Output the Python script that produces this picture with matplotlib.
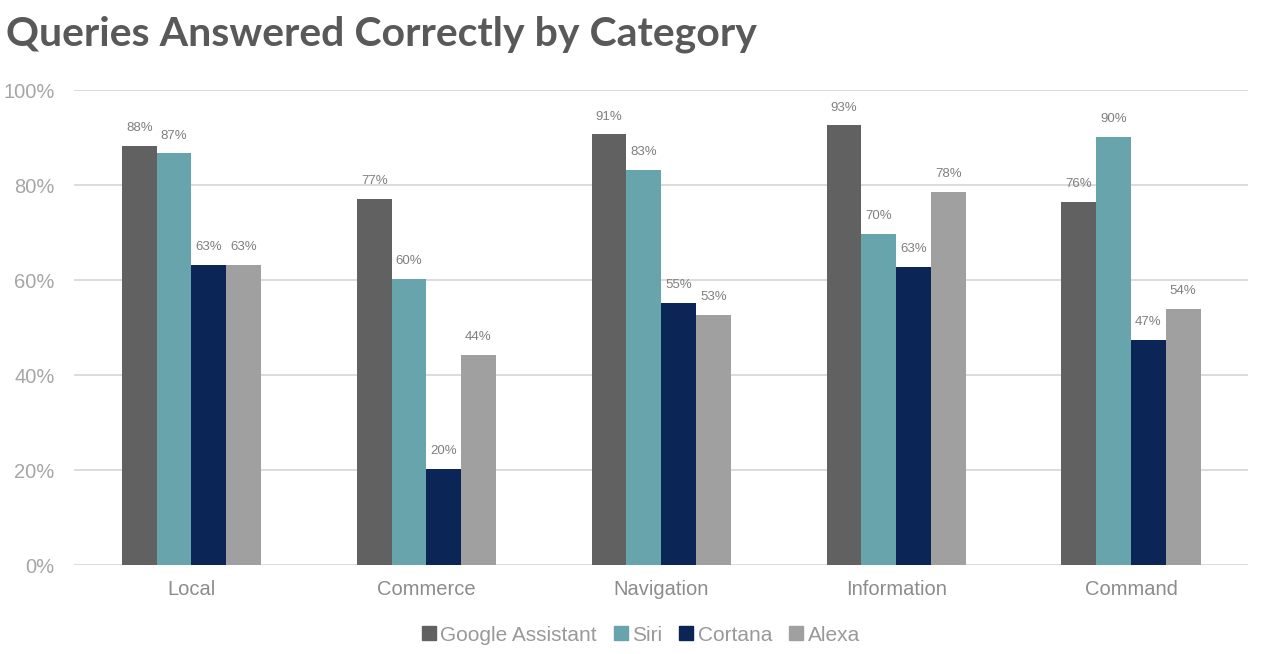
import matplotlib.pyplot as plt
import numpy as np
from matplotlib.lines import Line2D

categories = ["Local", "Commerce", "Navigation", "Information", "Command"]
series = ["Google Assistant", "Siri", "Cortana", "Alexa"]
google = [0.882, 0.771, 0.907, 0.926, 0.764]
siri = [0.867, 0.602, 0.832, 0.697, 0.901]
cortana = [0.632, 0.202, 0.552, 0.627, 0.474]
alexa = [0.632, 0.442, 0.526, 0.785, 0.539]
colors = ["#616161", "#68a4ab", "#0a2556", "#a0a0a0"]

fig = plt.figure(figsize=(12.65, 6.54), dpi=100)
ax = fig.add_axes([0.0585, 0.136, 0.9284, 0.726])

x = np.arange(len(categories))
w = 0.148
for i, vals in enumerate([google, siri, cortana, alexa]):
    pos = x + (i - 1.5) * w
    ax.bar(pos, vals, width=w, color=colors[i], zorder=3)
    for px, v in zip(pos, vals):
        ax.text(px, v + 0.025, f"{round(v * 100):.0f}%", ha='center', va='bottom',
                fontsize=9.5, color='#7f7f7f', family='Liberation Sans')

ax.set_xlim(-0.5, 4.5)
ax.set_ylim(0, 1)
ax.set_yticks(np.arange(0, 1.01, 0.2))
ax.set_yticklabels([f"{int(t * 100)}%" for t in np.arange(0, 1.01, 0.2)])
ax.set_xticks(x)
ax.set_xticklabels(categories)
ax.tick_params(length=0, labelsize=14.5, labelcolor='#8c8c8c')
ax.tick_params(axis='x', pad=11)
ax.tick_params(axis='y', pad=14, labelcolor='#a6a6a6')
for lab in ax.get_xticklabels() + ax.get_yticklabels():
    lab.set_family('Liberation Sans')
ax.grid(True, axis='y', color='#d9d9d9', linewidth=1.3, zorder=0)
for s in ax.spines.values():
    s.set_visible(False)

fig.text(0.005, 0.948, "Queries Answered Correctly by Category", fontsize=29.5,
         fontweight='bold', color='#595959', family='Lato', va='center')

handles = [Line2D([], [], marker='s', linestyle='none', markersize=9.5, color=c) for c in colors]
leg = fig.legend(handles, series, loc='center', bbox_to_anchor=(0.506, 0.029), ncol=4,
                 frameon=False, handlelength=0.8, handletextpad=0.15, columnspacing=0.75,
                 prop={'family': 'Liberation Sans', 'size': 15})
for t in leg.get_texts():
    t.set_color('#999999')

fig.savefig("out.png", dpi=100)
